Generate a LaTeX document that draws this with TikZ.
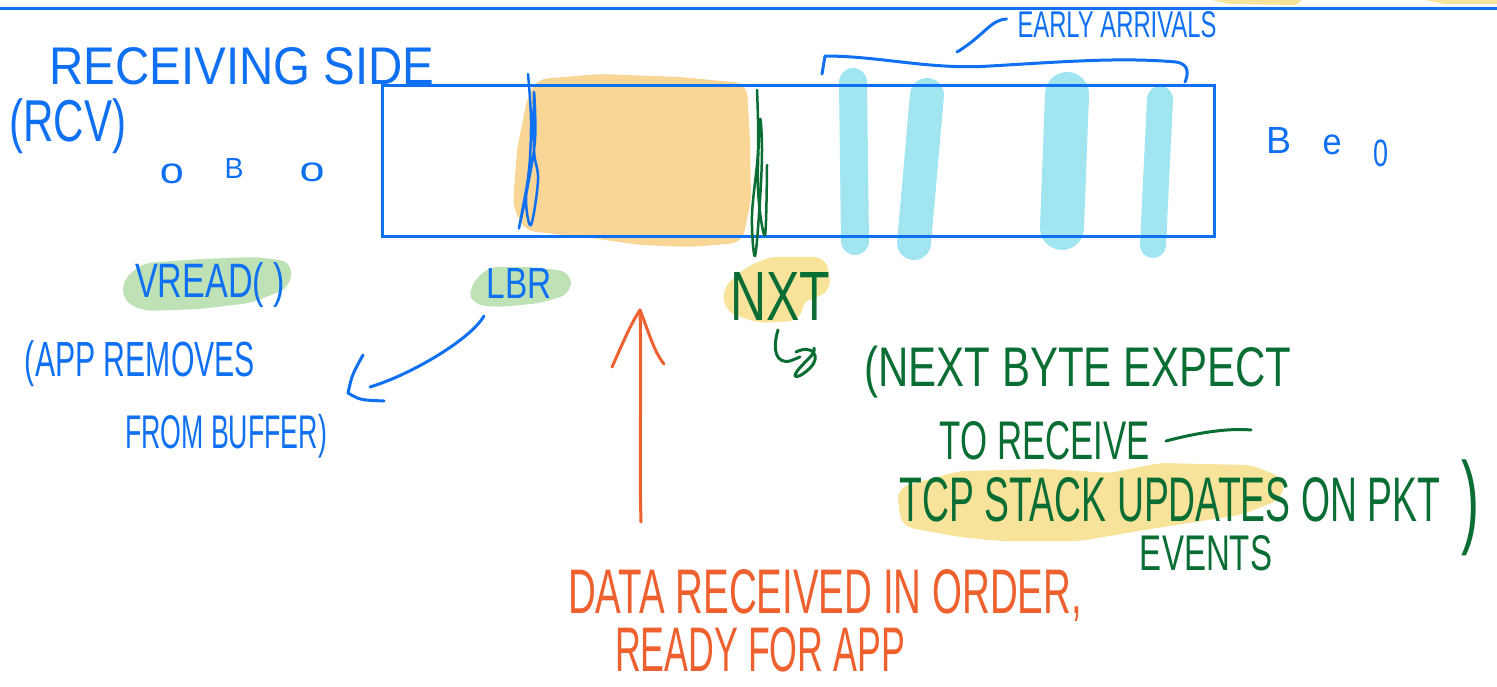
\documentclass[tikz,border=0pt]{standalone}
\usepackage{fontspec}
\setmainfont{Liberation Sans}
\usepackage{graphicx}
\definecolor{pen}{RGB}{16,112,242}
\definecolor{ink}{RGB}{10,110,52}
\definecolor{rust}{RGB}{238,96,46}
\definecolor{peach}{RGB}{249,213,150}
\definecolor{sky}{RGB}{160,229,240}
\definecolor{hlgreen}{RGB}{190,226,182}
\definecolor{hlyellow}{RGB}{248,227,154}
\newcommand\fitbox[3]{\resizebox*{#1pt}{#2pt}{#3}}
\newcommand\fitcap[3]{\resizebox{#1pt}{#2pt}{#3}}
\tikzset{
  txt/.style={inner sep=0pt, outer sep=0pt},
  bluetxt/.style={txt, text=pen},
  greentxt/.style={txt, text=ink},
  redtxt/.style={txt, text=rust},
  stroke/.style={line width=3pt, line cap=round, line join=round},
  scribble/.style={line width=2.5pt, line cap=round, line join=round},
  blob/.style={line width=10pt, line join=round, rounded corners=8pt},
  bar/.style={sky, line cap=round},
}
\begin{document}
\begin{tikzpicture}[x=1pt,y=-1pt]
\useasboundingbox (0,0) rectangle (1497,687);

% top rule and stray highlight marks
\fill[hlyellow] (1212,0) -- (1302,0) -- (1296,5) -- (1230,4) -- cycle;
\fill[hlyellow] (1425,0) -- (1497,0) -- (1497,4) -- (1445,4) -- cycle;
\coordinate (ruleL) at (0,9);
\coordinate (ruleR) at (1497,9);
\draw[pen, line width=3pt] (ruleL) -- (ruleR);

% in-order data (peach)
\filldraw[peach, blob] (540,84) -- (600,79) -- (680,82) -- (742,88) -- (745,140) -- (746,200) -- (738,238) -- (690,242) -- (640,240) -- (585,232) -- (528,226) -- (518,205) -- (522,150) -- (532,100) -- cycle;

% early arrivals (cyan strokes)
\draw[bar, line width=28pt] (853,82) -- (855,241);
\draw[bar, line width=34pt] (927,95) -- (914,243);
\draw[bar, line width=44pt] (1067,94) -- (1062,228);
\draw[bar, line width=26pt] (1160,99) -- (1153,245);

% buffer
\node[draw=pen, line width=3pt, minimum width=832pt, minimum height=151pt, inner sep=0pt, anchor=north west] (buf) at (381,84) {};

% LBR and NXT markers
\draw[pen, scribble] plot[smooth, tension=0.6] coordinates {(528,74) (531,120) (529,170) (522,212) (519,228) (527,190) (535,140) (534,92) (534,150) (538,180) (531,225) (526,200) (531,160)};
\draw[ink, scribble] plot[smooth, tension=0.6] coordinates {(757,90) (758,150) (752,215) (755,256) (760,200) (762,150) (760,120) (758,190) (765,235) (767,165)};

% early arrivals bracket and label
\coordinate (brL) at (822,74);
\coordinate (brR) at (1185,82);
\draw[pen, stroke] (brL) -- (825,56) .. controls (880,56) and (930,70) .. (990,66) .. controls (1060,62) and (1120,57) .. (1176,62) .. controls (1190,64) and (1188,75) .. (brR);
\node[bluetxt] (early) at (1117,25) {\fitcap{199}{26}{EARLY ARRIVALS}};
\coordinate (lead) at (957,52);
\draw[pen, stroke] (lead) .. controls (985,35) and (990,20) .. ([xshift=-11pt,yshift=6pt]early.west);

% left labels
\node[bluetxt] (title) at (242,66) {\fitcap{385}{37}{RECEIVING SIDE}};
\node[bluetxt] (rcv) at (68,126) {\fitbox{117}{55}{(RCV)}};
\node[bluetxt] (dl1) at (172,174) {\fitbox{24}{20}{o}};
\node[bluetxt] (dl2) at (234,168) {\fitbox{19}{20}{B}};
\node[bluetxt] (dl3) at (312,172) {\fitbox{25}{19}{o}};
\node[bluetxt] (dr1) at (1279,140) {\fitbox{25}{26}{B}};
\node[bluetxt] (dr2) at (1332,145) {\fitbox{19}{20}{e}};
\node[bluetxt] (dr3) at (1381,153) {\fitbox{15}{27}{0}};

% VREAD and LBR
\filldraw[hlgreen, blob] (128,282) -- (145,268) -- (200,264) -- (255,262) -- (287,266) -- (285,284) -- (250,298) -- (200,304) -- (145,306) -- (128,298) -- cycle;
\node[bluetxt] (vread) at (210,285) {\fitbox{150}{45}{VREAD( )}};
\filldraw[hlgreen, blob] (475,288) -- (490,272) -- (530,272) -- (566,276) -- (566,290) -- (540,298) -- (500,302) -- (476,300) -- cycle;
\node[bluetxt] (lbr) at (519,283) {\fitcap{65}{30}{LBR}};
\node[bluetxt] (app1) at (140,364) {\fitbox{230}{46}{(APP REMOVES}};
\node[bluetxt] (app2) at (226,436) {\fitbox{202}{44}{FROM BUFFER)}};
\coordinate (lbrTail) at (484,316);
\coordinate (lbrHead) at (370,387);
\draw[pen, stroke] (lbrTail) .. controls (470,340) and (410,375) .. (lbrHead);
\draw[pen, stroke] (363,355) .. controls (352,375) .. (348,393) .. controls (360,400) .. (384,401);

% NXT
\filldraw[hlyellow, blob] (728,290) -- (748,272) -- (770,262) -- (822,262) -- (826,288) -- (800,298) -- (796,316) -- (760,318) -- (730,308) -- cycle;
\node[greentxt] (nxt) at (780,296) {\fitcap{100}{48}{NXT}};
\coordinate (hookTop) at (778,330);
\coordinate (hookEnd) at (800,357);
\draw[ink, stroke] (hookTop) .. controls (772,350) and (776,364) .. (790,361) -- (hookEnd);
\draw[ink, stroke] (796,352) .. controls (812,344) and (822,356) .. (810,368) .. controls (800,378) and (790,380) .. (798,370) .. controls (806,360) and (816,354) .. (814,348);

% NXT explanation
\node[greentxt] (next) at (1078,372) {\fitbox{427}{52}{(NEXT BYTE EXPECT}};
\node[greentxt] (torcv) at (1045,441) {\fitcap{210}{38}{TO RECEIVE}};
\draw[ink, stroke] ([xshift=16pt]torcv.east) .. controls (1200,432) and (1230,428) .. (1251,430);
\filldraw[hlyellow, blob] (902,492) -- (960,476) -- (1050,474) -- (1110,478) -- (1160,468) -- (1250,470) -- (1280,482) -- (1276,496) -- (1240,510) -- (1150,524) -- (1080,536) -- (1000,536) -- (960,532) -- (906,522) -- cycle;
\node[greentxt] (tcp) at (1170,500) {\fitcap{540}{44}{TCP STACK UPDATES ON PKT}};
\node[greentxt] (events) at (1206,553) {\fitcap{132}{35}{EVENTS}};
\node[greentxt] (rparen) at (1470,508) {\fitbox{18}{96}{)}};

% data received in order
\node[redtxt, anchor=base west] (data) at (568,613) {\fitcap{514}{44}{DATA RECEIVED IN ORDER,}};
\node[redtxt] (ready) at (760,650) {\fitcap{290}{44}{READY FOR APP}};
\coordinate (arrTail) at (641,522);
\coordinate (arrTip) at (640,310);
\draw[rust, stroke] (arrTail) .. controls (639,450) and (642,380) .. (arrTip);
\draw[rust, stroke] (612,367) .. controls (622,345) and (630,325) .. (arrTip) .. controls (648,330) and (654,352) .. (664,364);
\end{tikzpicture}
\end{document}
